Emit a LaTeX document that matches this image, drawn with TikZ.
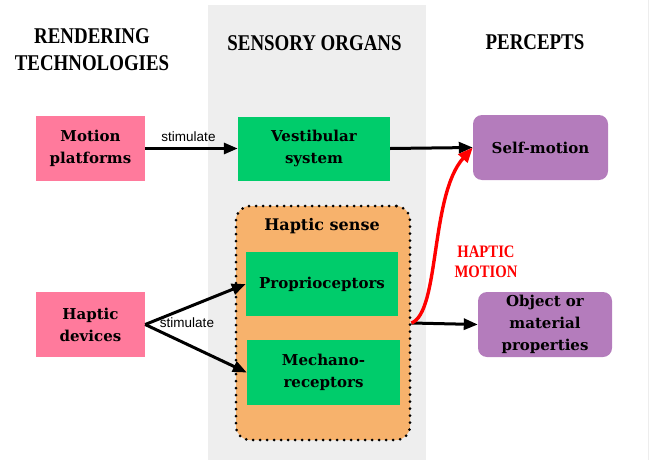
\documentclass[tikz,border=0pt]{standalone}
\usepackage{fontspec}
\setmainfont{DejaVu Serif}
\newfontfamily\headf[FakeStretch=0.84]{Liberation Serif}
\newfontfamily\labf{Liberation Sans}
\usetikzlibrary{arrows.meta}
\definecolor{pinkc}{HTML}{FF7A9C}
\definecolor{greenc}{HTML}{00CC6B}
\definecolor{purplec}{HTML}{B47CBC}
\definecolor{orangec}{HTML}{F7B26C}
\definecolor{bandc}{HTML}{EEEEEE}
\begin{document}
\begin{tikzpicture}[x=1pt,y=-1pt,
  box/.style={inner sep=2pt,align=center,font=\fontsize{15}{22}\selectfont\bfseries},
  tech/.style={box,fill=pinkc,minimum width=109pt,minimum height=65pt},
  organ/.style={box,fill=greenc,minimum width=152pt,minimum height=64pt},
  percept/.style={box,fill=purplec,rounded corners=9pt,minimum width=135pt,minimum height=65pt},
  head/.style={align=center,inner sep=0pt,font=\headf\fontsize{22.5}{27}\selectfont\bfseries},
  lab/.style={font=\labf\fontsize{13.5}{15}\selectfont},
  arr/.style={line width=3pt,-{Triangle[length=14pt,width=11pt]}}
]
\useasboundingbox (0,0) rectangle (655,460);
\fill[bandc] (208,5) rectangle (426,460);
\draw[black!7,line width=1pt] (648,0) -- (648,460);

\node[head] (h1) at (92,50) {RENDERING\\TECHNOLOGIES};
\node[head,anchor=base] (h2) at (314.5,50) {SENSORY ORGANS};
\node[head,anchor=base] (h3) at (535,49) {PERCEPTS};

\node[tech] (mp) at (90.5,148.5) {Motion\\platforms};
\node[organ] (vs) at (314,148.5) {Vestibular\\system};
\node[percept] (sm) at (540.5,147.5) {Self-motion};

\node[fill=orangec,draw=black,line width=3pt,dash pattern=on 0pt off 7pt,line cap=round,
  rounded corners=14pt,minimum width=174pt,minimum height=234pt] (hs) at (323,323) {};
\node[box,font=\fontsize{16}{18}\selectfont\bfseries] (hst) at (322,226) {Haptic sense};
\node[organ] (pr) at (322,284) {Proprioceptors};
\node[organ,minimum width=153pt,minimum height=65pt] (me) at (323.5,372.5) {Mechano-\\receptors};

\node[tech] (hd) at (90.5,324.5) {Haptic\\devices};
\node[percept,minimum width=134pt] (op) at (545,324.5) {Object or\\material\\properties};

\draw[arr] (mp.east) -- node[lab,above=2pt,xshift=-3pt] {stimulate} (vs.west);
\draw[arr] (vs.east) -- (sm.west);
\draw[arr] (hd.east) -- (pr.west);
\draw[arr] (hd.east) -- (me.west);
\node[lab] (st2) at (187,323) {stimulate};
\draw[arr] (hs.east) -- (op.west);
\draw[red,line width=3.4pt,-{Triangle[length=15pt,width=12pt]}] (hs.east) .. controls (440,312) and (430,195) .. (sm.west);
\node[head,text=red,font=\headf\fontsize{17.5}{20}\selectfont\bfseries] (hm) at (486,262) {HAPTIC\\MOTION};
\end{tikzpicture}
\end{document}
